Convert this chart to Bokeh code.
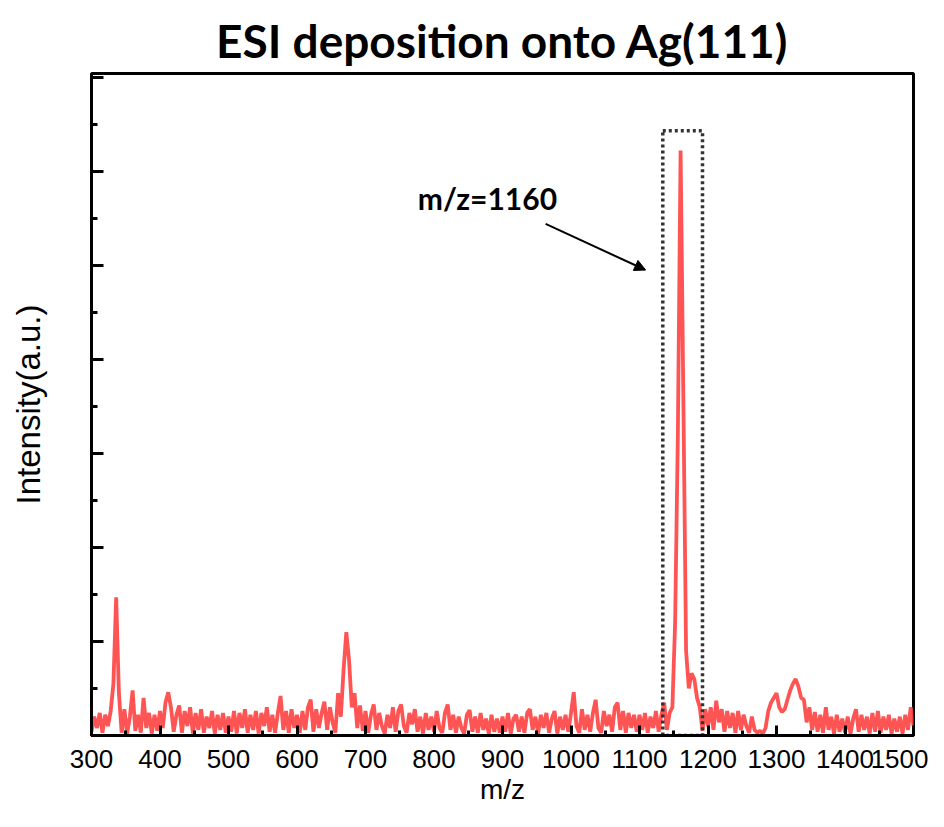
from bokeh.plotting import figure
from bokeh.models import (Label, Arrow, NormalHead, SingleIntervalTicker, Range1d,
                          ColumnDataSource, LinearAxis, FixedTicker, CustomLabelingPolicy)
from bokeh.embed import file_html
from bokeh.resources import INLINE

# ---- data ----
mz_start, mz_stop, mz_step = 300, 1500, 4
intensity = [
    # 300-396
    0.04, 0.20, 0.08, 0.24, 0.03, 0.22, 0.10, 0.26, 0.55, 1.47, 0.45, 0.03, 0.28, 0.02, 0.20, 0.48, 0.05, 0.22, 0.03, 0.40, 0.08, 0.24, 0.02, 0.22, 0.05,
    # 400-496
    0.26, 0.08, 0.35, 0.46, 0.30, 0.04, 0.22, 0.32, 0.03, 0.26, 0.10, 0.30, 0.02, 0.24, 0.06, 0.28, 0.03, 0.20, 0.08, 0.26, 0.02, 0.22, 0.06, 0.24, 0.03,
    # 500-596
    0.20, 0.04, 0.26, 0.02, 0.24, 0.08, 0.28, 0.03, 0.22, 0.06, 0.26, 0.02, 0.24, 0.10, 0.30, 0.04, 0.22, 0.03, 0.24, 0.42, 0.06, 0.26, 0.03, 0.28, 0.08,
    # 600-696
    0.22, 0.03, 0.26, 0.06, 0.30, 0.38, 0.04, 0.28, 0.08, 0.24, 0.36, 0.06, 0.30, 0.14, 0.03, 0.45, 0.20, 0.70, 1.10, 0.80, 0.30, 0.45, 0.08, 0.32, 0.05,
    # 700-796
    0.26, 0.03, 0.22, 0.33, 0.06, 0.24, 0.10, 0.02, 0.22, 0.08, 0.30, 0.04, 0.26, 0.33, 0.10, 0.03, 0.24, 0.12, 0.28, 0.04, 0.20, 0.02, 0.24, 0.06, 0.20,
    # 800-896
    0.04, 0.26, 0.08, 0.03, 0.24, 0.33, 0.06, 0.22, 0.03, 0.20, 0.08, 0.02, 0.22, 0.27, 0.04, 0.20, 0.03, 0.24, 0.06, 0.18, 0.02, 0.22, 0.04, 0.18, 0.03,
    # 900-996
    0.20, 0.04, 0.24, 0.02, 0.18, 0.22, 0.04, 0.20, 0.03, 0.24, 0.28, 0.06, 0.20, 0.02, 0.22, 0.08, 0.24, 0.03, 0.18, 0.26, 0.02, 0.20, 0.06, 0.22, 0.04,
    # 1000-1096
    0.24, 0.46, 0.10, 0.03, 0.28, 0.06, 0.22, 0.04, 0.24, 0.38, 0.08, 0.03, 0.26, 0.10, 0.22, 0.04, 0.30, 0.35, 0.06, 0.26, 0.03, 0.24, 0.08, 0.22, 0.04,
    # 1100-1196
    0.22, 0.06, 0.24, 0.03, 0.20, 0.08, 0.26, 0.04, 0.22, 0.35, 0.06, 0.24, 0.30, 1.20, 3.20, 6.22, 3.60, 0.90, 0.50, 0.66, 0.60, 0.40, 0.30, 0.05, 0.28,
    # 1200-1296
    0.10, 0.30, 0.06, 0.37, 0.14, 0.28, 0.04, 0.26, 0.08, 0.24, 0.03, 0.26, 0.06, 0.22, 0.10, 0.03, 0.20, 0.06, 0.03, 0.05, 0.02, 0.08, 0.26, 0.35, 0.40,
    # 1300-1396
    0.45, 0.30, 0.25, 0.28, 0.38, 0.48, 0.55, 0.60, 0.52, 0.40, 0.38, 0.14, 0.30, 0.06, 0.25, 0.04, 0.22, 0.03, 0.30, 0.06, 0.20, 0.02, 0.22, 0.04, 0.18,
    # 1400-1496
    0.03, 0.20, 0.02, 0.18, 0.28, 0.04, 0.22, 0.06, 0.20, 0.02, 0.24, 0.04, 0.26, 0.03, 0.20, 0.06, 0.22, 0.02, 0.18, 0.04, 0.20, 0.02, 0.22, 0.06, 0.30,
    # 1500
    0.10,
]
mz = list(range(mz_start, mz_stop + 1, mz_step))

title_text = "ESI deposition onto Ag(111)"
x_label = "m/z"
y_label = "Intensity(a.u.)"
note_text = "m/z=1160"
note_pos = (878, 5.72)
arrow_from = (963, 5.44)
arrow_to = (1109, 4.95)
box_left, box_right, box_bottom, box_top = 1134, 1192, 0.0, 6.43

src = ColumnDataSource(dict(mz=mz, intensity=intensity))

p = figure(width=928, height=811, output_backend="svg", toolbar_location=None,
           x_range=Range1d(300, 1500), y_range=Range1d(0, 7.04),
           min_border_left=91, min_border_right=15, min_border_top=73, min_border_bottom=76)

p.line("mz", "intensity", source=src, line_color="#ff4545", line_width=3.8, line_alpha=0.92)

p.quad(left=[box_left], right=[box_right], bottom=[box_bottom], top=[box_top],
       fill_color=None, line_color="#333333", line_width=3.5, line_dash="3 3")

p.add_layout(Label(x=note_pos[0], y=note_pos[1], text=note_text, text_font="Lato",
                   text_font_style="bold", text_font_size="30px", text_align="center",
                   text_baseline="middle", text_color="black"))
p.add_layout(Arrow(x_start=arrow_from[0], y_start=arrow_from[1], x_end=arrow_to[0], y_end=arrow_to[1],
                   line_color="black", line_width=2,
                   end=NormalHead(size=11, fill_color="black", line_color="black")))

p.xgrid.grid_line_color = None
p.ygrid.grid_line_color = None
p.outline_line_color = "black"
p.outline_line_width = 3
p.outline_line_alpha = 1

xa = p.below[0]
xa.ticker = SingleIntervalTicker(interval=100, num_minor_ticks=2)
xa.axis_line_width = 3
xa.major_tick_in = 10
xa.major_tick_out = 0
xa.minor_tick_in = 5
xa.minor_tick_out = 0
xa.major_tick_line_width = 3
xa.minor_tick_line_width = 3
xa.major_label_text_font = "Liberation Sans"
xa.major_label_text_font_size = "26px"
xa.major_label_text_color = "black"
xa.major_label_standoff = 14
xa.axis_label = x_label
xa.axis_label_text_font = "Liberation Sans"
xa.axis_label_text_font_size = "28px"
xa.axis_label_text_font_style = "normal"
xa.axis_label_standoff = 3
xa.axis_label_text_color = "black"

ya = p.left[0]
ya.ticker = SingleIntervalTicker(interval=1, num_minor_ticks=2)
ya.axis_line_width = 3
ya.major_tick_in = 12
ya.major_tick_out = 0
ya.minor_tick_in = 6
ya.minor_tick_out = 0
ya.major_tick_line_width = 3
ya.minor_tick_line_width = 3
ya.major_label_policy = CustomLabelingPolicy(code="""
    for (const i of indices)
        indices.unset(i)
    return indices
""")
ya.major_label_text_font_size = "0px"
ya.major_label_standoff = 0
ya.axis_label = y_label
ya.axis_label_text_font = "Liberation Sans"
ya.axis_label_text_font_size = "33px"
ya.axis_label_text_font_style = "normal"
ya.axis_label_standoff = 45
ya.axis_label_text_color = "black"

# title carried by an empty axis above the frame (precise vertical placement)
top_axis = LinearAxis(axis_label=title_text, ticker=FixedTicker(ticks=[]))
top_axis.axis_line_color = None
top_axis.major_tick_line_color = None
top_axis.minor_tick_line_color = None
top_axis.major_label_text_font_size = "0px"
top_axis.major_label_standoff = 0
top_axis.major_tick_out = 0
top_axis.major_tick_in = 0
top_axis.axis_label_text_font = "Lato"
top_axis.axis_label_text_font_size = "46px"
top_axis.axis_label_text_font_style = "bold"
top_axis.axis_label_text_color = "black"
top_axis.axis_label_standoff = 6
p.add_layout(top_axis, "above")

open("out.html", "w").write(file_html(p, INLINE))
